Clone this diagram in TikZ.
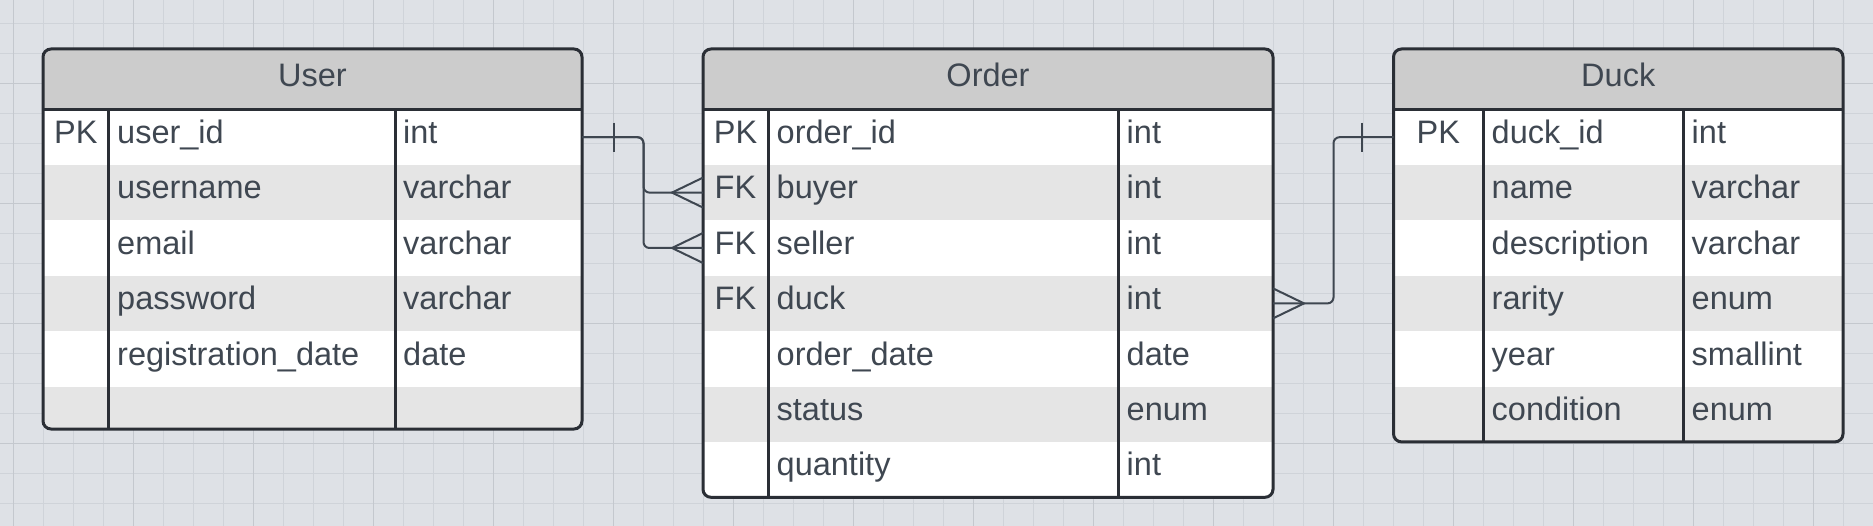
\documentclass[tikz,border=0pt]{standalone}
\usepackage{fontspec}
\setmainfont{Liberation Sans}
\usepackage{xcolor}
\usepackage{tikz}
\usetikzlibrary{positioning}
\definecolor{canvasbg}{HTML}{DEE1E6}
\definecolor{gridminor}{HTML}{CFD3D9}
\definecolor{gridmajor}{HTML}{C4C8CE}
\definecolor{headgrey}{HTML}{CCCCCC}
\definecolor{rowgrey}{HTML}{E5E5E5}
\definecolor{framedark}{HTML}{2A2E35}
\definecolor{inkgrey}{HTML}{3F4751}
\definecolor{linkgrey}{HTML}{3E4650}
\newcommand{\erfont}{\fontsize{32.5}{39}\selectfont}
\tikzset{
  cell/.style={inner sep=0pt, text=inkgrey, font=\erfont},
  keycell/.style={cell, anchor=base},
  fieldcell/.style={cell, anchor=base west},
  rowband/.style={
    rectangle, inner sep=0pt, outer sep=0pt, draw=none,
    minimum height=55.4pt, minimum width=#1, anchor=north west
  },
  tableframe/.style={draw=framedark, line width=3pt, rounded corners=8pt},
  coldivider/.style={draw=framedark, line width=3pt},
  relline/.style={draw=linkgrey, line width=2pt, rounded corners=6pt},
  crowfoot/.style={draw=linkgrey, line width=2pt}
}

\begin{document}
\begin{tikzpicture}[x=1pt, y=-1pt]
\useasboundingbox (0,0) rectangle (1873,526);

% Canvas and grid
\fill[canvasbg] (0,0) rectangle (1873,526);
\foreach \gx in {13.3,43.3,...,1873} \draw[gridminor, line width=1pt] (\gx,0) -- (\gx,526);
\foreach \gy in {23.3,53.3,...,526} \draw[gridminor, line width=1pt] (0,\gy) -- (1873,\gy);
\foreach \gx in {13.3,133.3,...,1873} \draw[gridmajor, line width=1pt] (\gx,0) -- (\gx,526);
\foreach \gy in {83.3,203.3,...,526} \draw[gridmajor, line width=1pt] (0,\gy) -- (1873,\gy);

% User table
\begin{scope}
\clip[rounded corners=8pt] (43,49) rectangle (582,429);
\fill[headgrey] (43,49) rectangle (582,109.5);
\foreach \i/\rc in {1/white,2/rowgrey,3/white,4/rowgrey,5/white,6/rowgrey}
  \node[rowband=539pt, fill=\rc] (uRow\i) at (43,{109.5+55.4*(\i-1)}) {};
\end{scope}
\draw[coldivider] (43,109.5) -- (582,109.5);
\draw[coldivider] (108.5,109.5) -- (108.5,429);
\draw[coldivider] (395,109.5) -- (395,429);
\draw[tableframe] (43,49) rectangle (582,429);

\node[keycell] (uHead) at (312.5,87) {User};
\node[keycell] (uKey1) at (75.75,143.5) {PK};
\node[fieldcell] (uName1) at (117,143.5) {user\_id};
\node[fieldcell] (uType1) at (403,143.5) {int};
\node[fieldcell] (uName2) at (117,198.9) {username};
\node[fieldcell] (uType2) at (403,198.9) {varchar};
\node[fieldcell] (uName3) at (117,254.3) {email};
\node[fieldcell] (uType3) at (403,254.3) {varchar};
\node[fieldcell] (uName4) at (117,309.7) {password};
\node[fieldcell] (uType4) at (403,309.7) {varchar};
\node[fieldcell] (uName5) at (117,365.1) {registration\_date};
\node[fieldcell] (uType5) at (403,365.1) {date};

% Order table
\begin{scope}
\clip[rounded corners=8pt] (703,49) rectangle (1273,497.3);
\fill[headgrey] (703,49) rectangle (1273,109.5);
\foreach \i/\rc in {1/white,2/rowgrey,3/white,4/rowgrey,5/white,6/rowgrey,7/white}
  \node[rowband=570pt, fill=\rc] (oRow\i) at (703,{109.5+55.4*(\i-1)}) {};
\end{scope}
\draw[coldivider] (703,109.5) -- (1273,109.5);
\draw[coldivider] (768,109.5) -- (768,497.3);
\draw[coldivider] (1118.5,109.5) -- (1118.5,497.3);
\draw[tableframe] (703,49) rectangle (1273,497.3);

\node[keycell] (oHead) at (988,87) {Order};
\node[keycell] (oKey1) at (735.5,143.5) {PK};
\node[fieldcell] (oName1) at (776.5,143.5) {order\_id};
\node[fieldcell] (oType1) at (1126.5,143.5) {int};
\node[keycell] (oKey2) at (735.5,198.9) {FK};
\node[fieldcell] (oName2) at (776.5,198.9) {buyer};
\node[fieldcell] (oType2) at (1126.5,198.9) {int};
\node[keycell] (oKey3) at (735.5,254.3) {FK};
\node[fieldcell] (oName3) at (776.5,254.3) {seller};
\node[fieldcell] (oType3) at (1126.5,254.3) {int};
\node[keycell] (oKey4) at (735.5,309.7) {FK};
\node[fieldcell] (oName4) at (776.5,309.7) {duck};
\node[fieldcell] (oType4) at (1126.5,309.7) {int};
\node[fieldcell] (oName5) at (776.5,365.1) {order\_date};
\node[fieldcell] (oType5) at (1126.5,365.1) {date};
\node[fieldcell] (oName6) at (776.5,420.5) {status};
\node[fieldcell] (oType6) at (1126.5,420.5) {enum};
\node[fieldcell] (oName7) at (776.5,475.9) {quantity};
\node[fieldcell] (oType7) at (1126.5,475.9) {int};

% Duck table
\begin{scope}
\clip[rounded corners=8pt] (1393.5,49) rectangle (1843,441.9);
\fill[headgrey] (1393.5,49) rectangle (1843,109.5);
\foreach \i/\rc in {1/white,2/rowgrey,3/white,4/rowgrey,5/white,6/rowgrey}
  \node[rowband=449.5pt, fill=\rc] (dRow\i) at (1393.5,{109.5+55.4*(\i-1)}) {};
\end{scope}
\draw[coldivider] (1393.5,109.5) -- (1843,109.5);
\draw[coldivider] (1483,109.5) -- (1483,441.9);
\draw[coldivider] (1683.5,109.5) -- (1683.5,441.9);
\draw[tableframe] (1393.5,49) rectangle (1843,441.9);

\node[keycell] (dHead) at (1618.25,87) {Duck};
\node[keycell] (dKey1) at (1438.25,143.5) {PK};
\node[fieldcell] (dName1) at (1491.5,143.5) {duck\_id};
\node[fieldcell] (dType1) at (1691.5,143.5) {int};
\node[fieldcell] (dName2) at (1491.5,198.9) {name};
\node[fieldcell] (dType2) at (1691.5,198.9) {varchar};
\node[fieldcell] (dName3) at (1491.5,254.3) {description};
\node[fieldcell] (dType3) at (1691.5,254.3) {varchar};
\node[fieldcell] (dName4) at (1491.5,309.7) {rarity};
\node[fieldcell] (dType4) at (1691.5,309.7) {enum};
\node[fieldcell] (dName5) at (1491.5,365.1) {year};
\node[fieldcell] (dType5) at (1691.5,365.1) {smallint};
\node[fieldcell] (dName6) at (1491.5,420.5) {condition};
\node[fieldcell] (dType6) at (1691.5,420.5) {enum};

% User one -- many Order (buyer, seller)
\draw[relline] (uRow1.east) -- ++(61.5,0) |- (oRow2.west);
\draw[relline] (uRow1.east) -- ++(61.5,0) |- (oRow3.west);
\draw[crowfoot] ([xshift=32pt,yshift=14.5pt]uRow1.east) -- ([xshift=32pt,yshift=-14.5pt]uRow1.east);
\draw[crowfoot] ([yshift=15pt]oRow2.west) -- ([xshift=-31pt]oRow2.west) -- ([yshift=-15pt]oRow2.west);
\draw[crowfoot] ([yshift=15pt]oRow3.west) -- ([xshift=-31pt]oRow3.west) -- ([yshift=-15pt]oRow3.west);

% Order many -- one Duck
\draw[relline] (oRow4.east) -- ++(60.5,0) |- (dRow1.west);
\draw[crowfoot] ([xshift=-32pt,yshift=14.5pt]dRow1.west) -- ([xshift=-32pt,yshift=-14.5pt]dRow1.west);
\draw[crowfoot] ([yshift=15pt]oRow4.east) -- ([xshift=31pt]oRow4.east) -- ([yshift=-15pt]oRow4.east);
\end{tikzpicture}
\end{document}
